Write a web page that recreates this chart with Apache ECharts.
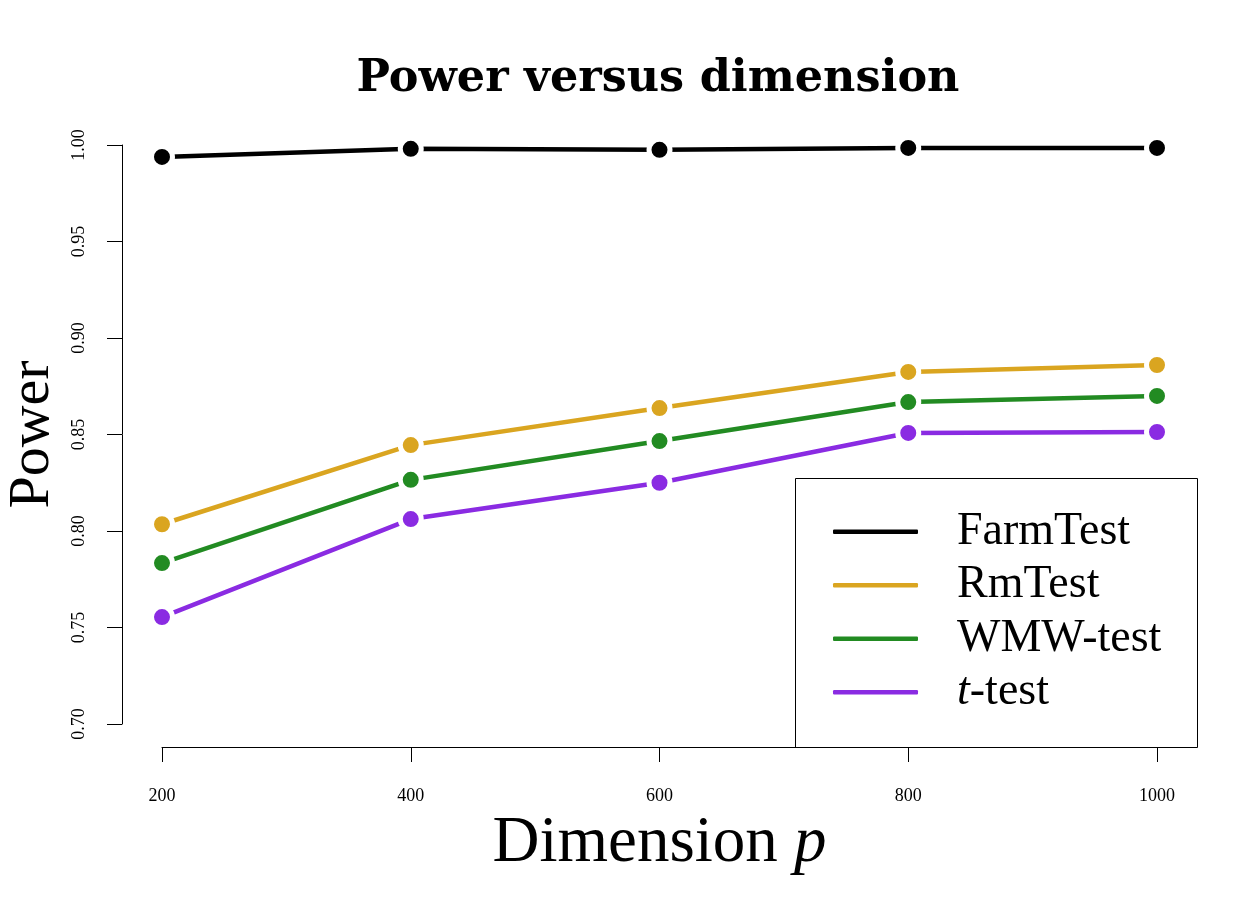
<!DOCTYPE html>
<html>
<head>
<meta charset="utf-8">
<script src="https://cdn.jsdelivr.net/npm/echarts@6/dist/echarts.min.js"></script>
<style>
	html, body { margin: 0; padding: 0; background: #fff; }
	#chart { width: 1260px; height: 900px; }
</style>
</head>
<body>
<div id="chart"></div>
<script>
// dimension p on the x axis
const dims = [200, 400, 600, 800, 1000];
const yTicks = [0.70, 0.75, 0.80, 0.85, 0.90, 0.95, 1.00];

const farmTest = [0.9938, 0.9980, 0.9975, 0.9985, 0.9985];
const rmTest = [0.8035, 0.8445, 0.8637, 0.8824, 0.8860];
const wmwTest = [0.7834, 0.8265, 0.8466, 0.8668, 0.8700];
const tTest = [0.7554, 0.8062, 0.8250, 0.8508, 0.8513];

const names = ['FarmTest', 'RmTest', 'WMW-test', 't-test'];
const colors = ['#000000', '#DAA520', '#228B22', '#8A2BE2'];
const values = [farmTest, rmTest, wmwTest, tTest];

const serif = '"Liberation Serif", "Times New Roman", serif';

const chart = echarts.init(document.getElementById('chart'));

const series = names.map((name, i) => ({
	name,
	type: 'line',
	data: dims.map((d, k) => [d, values[i][k]]),
	symbol: 'circle',
	symbolSize: 21,
	showAllSymbol: true,
	lineStyle: { color: colors[i], width: 4.5, cap: 'round' },
	// white ring gives the gap between line and point (R type = "b")
	itemStyle: { color: colors[i], borderColor: '#ffffff', borderWidth: 5 },
	emphasis: { disabled: true },
	z: 2,
}));

chart.setOption({
	animation: false,
	title: {
		text: 'Power versus dimension',
		left: 653,
		textAlign: 'center',
		top: 52,
		textStyle: {
			fontFamily: '"DejaVu Serif", serif',
			fontWeight: 'bold',
			fontSize: 44.5,
			color: '#000',
		},
	},
	grid: {
		left: 162,
		right: 103,
		top: 145,
		bottom: 176,
		containLabel: false,
		outerBoundsMode: 'none',
	},
	xAxis: {
		type: 'value',
		min: 200,
		max: 1000,
		interval: 200,
		offset: 23,
		name: '{a|Dimension }{b|p}',
		nameLocation: 'middle',
		nameGap: 64,
		nameTextStyle: {
			rich: {
				a: { fontFamily: serif, fontSize: 65, color: '#000' },
				b: { fontFamily: serif, fontSize: 65, fontStyle: 'italic', color: '#000' },
			},
		},
		axisLine: { lineStyle: { color: '#000', width: 1 } },
		axisTick: { length: 15, lineStyle: { color: '#000', width: 1 } },
		axisLabel: {
			margin: 40,
			fontFamily: serif,
			fontSize: 18,
			color: '#000',
			formatter: (v) => String(v),
		},
		splitLine: { show: false },
	},
	yAxis: {
		type: 'value',
		min: yTicks[0],
		max: yTicks[yTicks.length - 1],
		interval: 0.05,
		offset: 40,
		name: 'Power',
		nameLocation: 'middle',
		nameRotate: 90,
		nameGap: 60,
		nameTextStyle: { fontFamily: serif, fontSize: 58, color: '#000' },
		axisLine: { show: true, lineStyle: { color: '#000', width: 1 } },
		axisTick: { show: true, length: 15, lineStyle: { color: '#000', width: 1 } },
		axisLabel: {
			margin: 34,
			rotate: 90,
			fontFamily: serif,
			fontSize: 18,
			color: '#000',
			formatter: (v) => v.toFixed(2),
		},
		splitLine: { show: false },
	},
	legend: {
		orient: 'vertical',
		left: 833,
		top: 505,
		padding: 0,
		itemGap: 0,
		itemWidth: 85,
		itemHeight: 4.5,
		icon: 'roundRect',
		itemStyle: { borderWidth: 0 },
		data: names,
		formatter: (n) => (n === 't-test' ? '{i|t}-test' : n),
		textStyle: {
			fontFamily: serif,
			fontSize: 46,
			lineHeight: 53.5,
			color: '#000',
			padding: [0, 0, 0, 34],
			rich: {
				i: { fontFamily: serif, fontSize: 46, fontStyle: 'italic', color: '#000' },
			},
		},
		selectedMode: false,
	},
	graphic: [{
		type: 'rect',
		left: 795,
		top: 478,
		shape: { width: 402, height: 269 },
		style: { fill: '#fff', stroke: '#000', lineWidth: 1 },
		z: 0,
	}],
	series,
});
</script>
</body>
</html>
